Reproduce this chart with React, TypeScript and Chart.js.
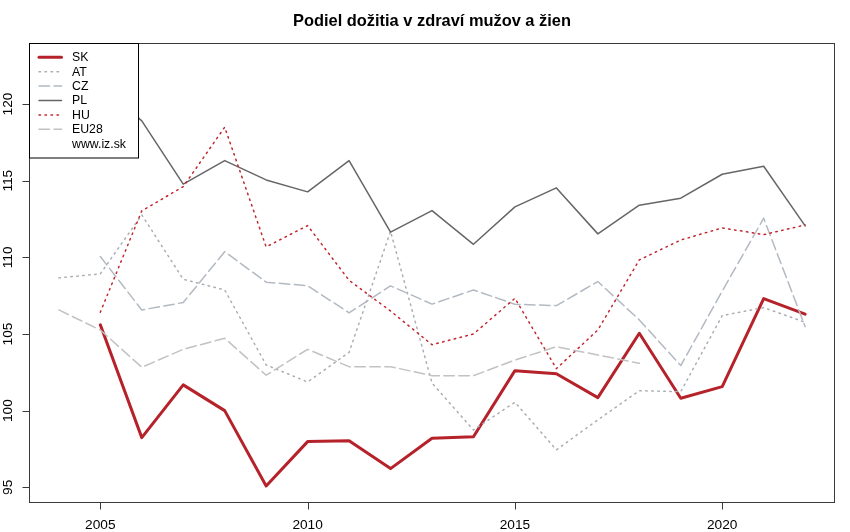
import React, { useEffect, useRef } from "react";
import { Chart, registerables } from "chart.js";

Chart.register(...registerables);

const years = [2004, 2005, 2006, 2007, 2008, 2009, 2010, 2011, 2012, 2013, 2014, 2015, 2016, 2017, 2018, 2019, 2020, 2021, 2022];
const SK = [null, 105.6, 98.24, 101.68, 100.0, 95.09, 97.98, 98.04, 96.22, 98.2, 98.3, 102.61, 102.41, 100.85, 105.05, 100.81, 101.57, 107.31, 106.29];
const AT = [108.66, 108.92, 112.77, 108.57, 107.87, 102.98, 101.87, 103.8, 111.7, 101.8, 98.74, 100.55, 97.44, 99.4, 101.3, 101.24, 106.2, 106.72, 105.77];
const CZ = [null, 110.05, 106.57, 107.05, 110.37, 108.38, 108.15, 106.38, 108.14, 106.95, 107.87, 106.94, 106.85, 108.42, 105.92, 102.94, 107.8, 112.55, 105.48];
const PL = [122.87, 121.3, 118.9, 114.78, 116.31, 115.05, 114.27, 116.31, 111.64, 113.05, 110.85, 113.29, 114.53, 111.53, 113.4, 113.86, 115.42, 115.94, 112.05];
const HU = [null, 106.42, 113.03, 114.61, 118.49, 110.68, 112.07, 108.5, 106.5, 104.3, 105.0, 107.33, 102.74, 105.26, 109.83, 111.13, 111.92, 111.48, 112.11];
const EU28 = [106.57, 105.26, 102.83, 104.0, 104.72, 102.31, 104.0, 102.87, 102.87, 102.28, 102.28, 103.3, 104.17, 103.63, 103.09, null, null, null, null];

const xTicks = [2005, 2010, 2015, 2020];
const yTicks = [95, 100, 105, 110, 115, 120];
const titleText = "Podiel dožitia v zdraví mužov a žien";
const legendNote = "www.iz.sk";

const FONT = "'Liberation Sans', Arial, Helvetica, sans-serif";

type Series = {
  label: string;
  values: (number | null)[];
  color: string;
  width: number;
  dash: number[];
  order: number;
};

const series: Series[] = [
  { label: "SK", values: SK, color: "#b5222a", width: 3, dash: [], order: 6 },
  { label: "AT", values: AT, color: "#a9adb3", width: 1.5, dash: [1.5, 4.5], order: 5 },
  { label: "CZ", values: CZ, color: "#b3b9c2", width: 1.5, dash: [10.5, 4.5], order: 4 },
  { label: "PL", values: PL, color: "#666666", width: 1.5, dash: [], order: 3 },
  { label: "HU", values: HU, color: "#c2262d", width: 1.5, dash: [1.5, 4.5], order: 2 },
  { label: "EU28", values: EU28, color: "#c2c2c2", width: 1.5, dash: [10.5, 4.5], order: 1 },
];

const decorPlugin = {
  id: "rdecor",
  afterDatasetsDraw(chart: any) {
    const ctx = chart.ctx as CanvasRenderingContext2D;
    const { left, right, top, bottom } = chart.chartArea;
    const xs = chart.scales.x;
    const ys = chart.scales.y;
    ctx.save();
    // box
    ctx.strokeStyle = "#3a3a3a";
    ctx.lineWidth = 1;
    ctx.setLineDash([]);
    ctx.strokeRect(Math.round(left) + 0.5, Math.round(top) + 0.5, Math.round(right - left) - 1, Math.round(bottom - top) - 1);
    // x ticks
    ctx.fillStyle = "#000";
    ctx.font = `13.7px ${FONT}`;
    ctx.textAlign = "center";
    ctx.textBaseline = "alphabetic";
    const b = Math.round(bottom) - 0.5;
    ctx.beginPath();
    ctx.moveTo(xs.getPixelForValue(xTicks[0]), b);
    ctx.lineTo(xs.getPixelForValue(xTicks[xTicks.length - 1]), b);
    for (const t of xTicks) {
      const px = Math.round(xs.getPixelForValue(t)) + 0.5;
      ctx.moveTo(px, b);
      ctx.lineTo(px, b + 7);
    }
    ctx.stroke();
    for (const t of xTicks) {
      ctx.fillText(String(t), xs.getPixelForValue(t), 529);
    }
    // y ticks
    const l = Math.round(left) + 0.5;
    ctx.beginPath();
    ctx.moveTo(l, ys.getPixelForValue(yTicks[0]));
    ctx.lineTo(l, ys.getPixelForValue(yTicks[yTicks.length - 1]));
    for (const t of yTicks) {
      const py = Math.round(ys.getPixelForValue(t)) + 0.5;
      ctx.moveTo(l, py);
      ctx.lineTo(l - 7, py);
    }
    ctx.stroke();
    for (const t of yTicks) {
      ctx.save();
      ctx.translate(12, ys.getPixelForValue(t));
      ctx.rotate(-Math.PI / 2);
      ctx.fillText(String(t), 0, 0);
      ctx.restore();
    }
    // title
    ctx.font = `bold 16.4px ${FONT}`;
    ctx.fillText(titleText, (left + right) / 2, 26);
    // legend
    const lx = Math.round(left) + 0.5;
    const ly = Math.round(top) + 0.5;
    const lw = 109;
    const lh = 114.5;
    ctx.fillStyle = "#fff";
    ctx.fillRect(lx, ly, lw, lh);
    ctx.strokeStyle = "#000";
    ctx.lineWidth = 1;
    ctx.strokeRect(lx, ly, lw, lh);
    ctx.font = `12.3px ${FONT}`;
    ctx.textAlign = "left";
    ctx.textBaseline = "middle";
    const rowY = (i: number) => 57.3 + i * 14.4;
    series.forEach((s, i) => {
      const y = rowY(i);
      ctx.save();
      ctx.strokeStyle = s.color;
      ctx.lineWidth = s.width;
      ctx.lineCap = "round";
      ctx.setLineDash(s.dash);
      ctx.beginPath();
      ctx.moveTo(39, y);
      ctx.lineTo(61.5, y);
      ctx.stroke();
      ctx.restore();
      ctx.fillStyle = "#000";
      ctx.fillText(s.label, 72, y + 0.5);
    });
    ctx.fillStyle = "#000";
    ctx.fillText(legendNote, 72, rowY(series.length) + 0.5);
    ctx.restore();
  },
};

export default function App() {
  const ref = useRef<HTMLCanvasElement | null>(null);
  useEffect(() => {
    if (!ref.current) return;
    const chart = new Chart(ref.current, {
      type: "line",
      data: {
        datasets: series.map((s) => ({
          label: s.label,
          data: years
            .map((yr, i) => ({ x: yr, y: s.values[i] }))
            .filter((p) => p.y !== null) as any,
          borderColor: s.color,
          backgroundColor: s.color,
          borderWidth: s.width,
          borderDash: s.dash,
          borderCapStyle: "round",
          borderJoinStyle: "round",
          pointRadius: 0,
          fill: false,
          tension: 0,
          order: s.order,
        })),
      },
      options: {
        responsive: false,
        animation: false,
        layout: { padding: { left: 29, right: 15, top: 43, bottom: 29 } },
        plugins: {
          legend: { display: false },
          title: { display: false },
          tooltip: { enabled: false },
        },
        scales: {
          x: { type: "linear", min: 2003.28, max: 2022.72, display: false },
          y: { type: "linear", min: 93.976, max: 123.98, display: false },
        },
      },
      plugins: [decorPlugin],
    });
    return () => chart.destroy();
  }, []);
  return (
    <div style={{ position: "fixed", left: 0, top: 0, width: 850, height: 532, background: "#fff" }}>
      <canvas ref={ref} width={850} height={532} style={{ width: 850, height: 532, display: "block" }} />
    </div>
  );
}
